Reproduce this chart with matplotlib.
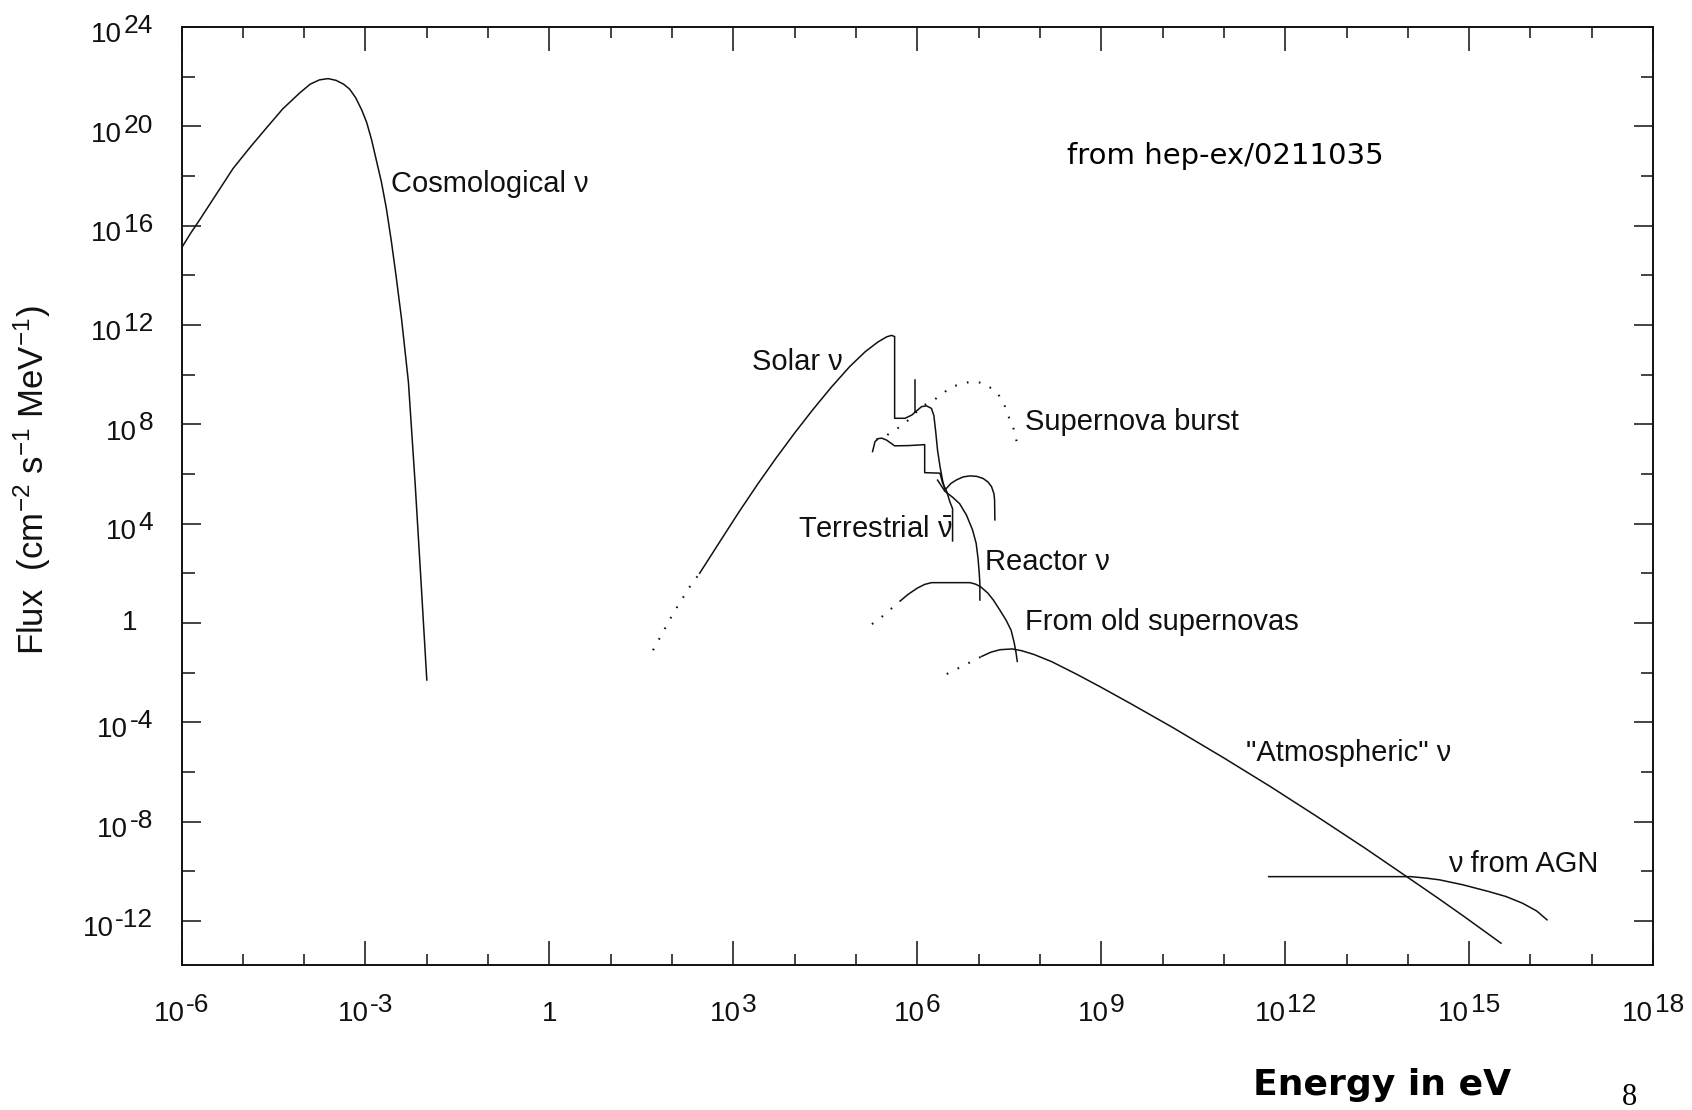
import numpy as np
import matplotlib
matplotlib.use("Agg")
import matplotlib.pyplot as plt
from matplotlib.ticker import FixedLocator, NullFormatter

plt.rcParams['font.family'] = ['Liberation Sans', 'DejaVu Sans']
plt.rcParams['mathtext.fontset'] = 'custom'
plt.rcParams['mathtext.rm'] = 'Liberation Sans'
plt.rcParams['mathtext.it'] = 'Liberation Sans:italic'
plt.rcParams['mathtext.bf'] = 'Liberation Sans:bold'
plt.rcParams['mathtext.default'] = 'regular'

# all values are log10(E / eV) and log10(flux)
cosmo_logE = [-6.0, -5.85, -5.7, -5.45, -5.16, -4.9, -4.61, -4.35, -4.07, -3.9, -3.75, -3.61,
              -3.48, -3.36, -3.26, -3.16, -3.06, -2.98, -2.9, -2.82, -2.74, -2.66, -2.58,
              -2.5, -2.41, -2.3, -2.19, -2.1, -2.0]
cosmo_logF = [15.1, 15.7, 16.25, 17.2, 18.3, 19.1, 19.95, 20.7, 21.35, 21.7, 21.87, 21.92,
              21.85, 21.7, 21.5, 21.15, 20.65, 20.15, 19.45, 18.6, 17.75, 16.7, 15.4,
              13.95, 12.2, 9.7, 5.6, 1.9, -2.3]

solar_dot_logE = [1.69, 2.02, 2.29, 2.45]
solar_dot_logF = [-1.1, 0.39, 1.46, 2.0]
solar_logE = [2.45, 2.8, 3.1, 3.4, 3.7, 4.0, 4.3, 4.6, 4.9, 5.15, 5.35, 5.5, 5.58, 5.63,
              5.63, 5.80, 5.91, 5.97, 6.07, 6.15, 6.23, 6.27, 6.30, 6.33, 6.37, 6.41, 6.45,
              6.55, 6.64, 6.75, 6.86, 6.97, 7.07, 7.15, 7.21, 7.25, 7.26, 7.265]
solar_logF = [2.0, 3.35, 4.5, 5.6, 6.65, 7.65, 8.6, 9.5, 10.33, 10.92, 11.3, 11.52, 11.58,
              11.53, 8.24, 8.24, 8.37, 8.5, 8.71, 8.74, 8.64, 8.35, 7.7, 6.95, 6.3, 5.76,
              5.35, 5.62, 5.76, 5.88, 5.92, 5.9, 5.82, 5.68, 5.49, 5.2, 4.95, 4.15]
be7_logE = [5.97, 5.97]
be7_logF = [9.78, 8.5]

sn_logE = [5.33, 5.47, 5.63, 5.77, 5.91, 6.07, 6.29, 6.56, 6.86, 7.07, 7.29, 7.40, 7.51,
           7.59, 7.64]
sn_logF = [7.38, 7.50, 7.77, 7.97, 8.31, 8.71, 9.01, 9.51, 9.71, 9.67, 9.31, 8.91, 8.17,
           7.70, 7.03]

terr_logE = [5.27, 5.31, 5.36, 5.42, 5.50, 5.63, 5.85, 6.00, 6.12, 6.12, 6.37, 6.41, 6.48,
             6.53, 6.575, 6.575]
terr_logF = [6.90, 7.30, 7.42, 7.44, 7.36, 7.13, 7.14, 7.16, 7.18, 6.05, 6.03, 5.65, 5.29,
             4.88, 4.6, 3.3]

reactor_logE = [6.33, 6.45, 6.58, 6.69, 6.80, 6.90, 6.96, 6.99, 7.01, 7.02, 7.02]
reactor_logF = [5.75, 5.30, 5.05, 4.80, 4.35, 3.75, 3.2, 2.6, 2.0, 1.6, 0.92]

oldsn_dot_logE = [5.26, 5.45, 5.61, 5.72]
oldsn_dot_logF = [-0.05, 0.3, 0.65, 0.88]
oldsn_logE = [5.72, 5.85, 6.0, 6.12, 6.23, 6.86, 6.95, 7.03, 7.15, 7.24, 7.35, 7.45, 7.53,
              7.58, 7.61, 7.63]
oldsn_logF = [0.88, 1.15, 1.4, 1.55, 1.62, 1.62, 1.56, 1.46, 1.2, 0.92, 0.5, 0.1, -0.3,
              -0.8, -1.2, -1.55]

atm_dot_logE = [6.48, 6.65, 6.85, 7.05]
atm_dot_logF = [-2.06, -1.85, -1.6, -1.35]
atm_logE = [7.05, 7.2, 7.35, 7.55, 7.7, 7.9, 8.19, 8.6, 8.98, 9.5, 10.17, 11.0, 11.75, 12.5,
            13.3, 13.97, 14.5, 14.92, 15.52]
atm_logF = [-1.35, -1.18, -1.08, -1.05, -1.12, -1.27, -1.56, -2.07, -2.57, -3.28, -4.22,
            -5.44, -6.58, -7.77, -9.07, -10.2, -11.1, -11.83, -12.9]

agn_logE = [11.73, 14.05, 14.3, 14.52, 14.9, 15.32, 15.6, 15.87, 16.1, 16.27]
agn_logF = [-10.22, -10.22, -10.28, -10.35, -10.55, -10.82, -11.02, -11.29, -11.6, -11.96]

labels = ["Cosmological \u03bd", "Solar \u03bd", "Supernova burst",
          r"Terrestrial $\bar{\mathrm{\nu}}$", "Reactor \u03bd", "From old supernovas",
          "\"Atmospheric\" \u03bd", "\u03bd from AGN"]
label_logE = [-2.59, 3.30, 7.75, 4.05, 7.10, 7.75, 11.36, 14.65]
label_logF = [17.66, 10.51, 8.09, 3.78, 2.45, 0.04, -5.24, -9.71]

x_major = [-6, -3, 0, 3, 6, 9, 12, 15, 18]
y_major = [-12, -8, -4, 0, 4, 8, 12, 16, 20, 24]


def p(v):
    return 10.0 ** np.asarray(v, dtype=float)


fig = plt.figure(figsize=(16.92, 11.10), dpi=100)
ax = fig.add_axes([0.1073, 0.1306, 0.8697, 0.8451])

ink = '#111111'
solid = dict(color=ink, lw=1.1)
dotted = dict(color=ink, lw=1.5, linestyle=(0, (0.8, 5.0)))

ax.plot(p(cosmo_logE), p(cosmo_logF), **solid)
ax.plot(p(solar_dot_logE), p(solar_dot_logF), **dotted)
ax.plot(p(solar_logE), p(solar_logF), **solid)
ax.plot(p(be7_logE), p(be7_logF), **solid)
ax.plot(p(sn_logE), p(sn_logF), **dotted)
ax.plot(p(terr_logE), p(terr_logF), **solid)
ax.plot(p(reactor_logE), p(reactor_logF), **solid)
ax.plot(p(oldsn_dot_logE), p(oldsn_dot_logF), **dotted)
ax.plot(p(oldsn_logE), p(oldsn_logF), **solid)
ax.plot(p(atm_dot_logE), p(atm_dot_logF), **dotted)
ax.plot(p(atm_logE), p(atm_logF), **solid)
ax.plot(p(agn_logE), p(agn_logF), **solid)

for txt, lx, ly in zip(labels, label_logE, label_logF):
    ax.text(10.0 ** lx, 10.0 ** ly, txt, fontsize=21, ha='left', va='center', color=ink)

ax.set_xscale('log')
ax.set_yscale('log')
ax.set_xlim(1e-6, 1e18)
ax.set_ylim(10 ** -13.78, 1e24)

ax.xaxis.set_major_locator(FixedLocator(p(x_major)))
ax.xaxis.set_minor_locator(FixedLocator(p([e for e in range(-6, 19) if e % 3 != 0])))
ax.yaxis.set_major_locator(FixedLocator(p(y_major)))
ax.yaxis.set_minor_locator(FixedLocator(p([e for e in range(-14, 25, 2) if e % 4 != 0])))
for a in (ax.xaxis, ax.yaxis):
    a.set_major_formatter(NullFormatter())
    a.set_minor_formatter(NullFormatter())

ax.tick_params(which='both', direction='in', top=True, right=True, colors=ink, width=1.1)
ax.tick_params(axis='x', which='major', length=17)
ax.tick_params(axis='x', which='minor', length=8)
ax.tick_params(axis='y', which='major', length=14)
ax.tick_params(axis='y', which='minor', length=9)
for s in ax.spines.values():
    s.set_linewidth(1.4)
    s.set_color(ink)

# tick labels "10" + raised exponent of nearly the same size, as in the original
base_size = 20
exp_size = 19
gap = 1.0
raise_pt = 6.5
base_w = 2 * 0.556 * base_size


def exp_width(s):
    return sum(0.333 if c == '-' else 0.556 for c in s) * exp_size


xtr = ax.get_xaxis_transform()
for e in x_major:
    xv = 10.0 ** e
    if e == 0:
        ax.annotate('1', xy=(xv, 0), xycoords=xtr, xytext=(0, -40.3),
                    textcoords='offset points', ha='center', va='baseline',
                    fontsize=base_size, color=ink)
        continue
    s = str(e)
    left = -(base_w + gap + exp_width(s)) / 2
    ax.annotate('10', xy=(xv, 0), xycoords=xtr, xytext=(left, -40.3),
                textcoords='offset points', ha='left', va='baseline',
                fontsize=base_size, color=ink)
    ax.annotate(s, xy=(xv, 0), xycoords=xtr, xytext=(left + base_w + gap, -40.3 + raise_pt),
                textcoords='offset points', ha='left', va='baseline',
                fontsize=exp_size, color=ink)

ytr = ax.get_yaxis_transform()
for e in y_major:
    yv = 10.0 ** e
    if e == 0:
        ax.annotate('1', xy=(0, yv), xycoords=ytr, xytext=(-32, 0),
                    textcoords='offset points', ha='right', va='center',
                    fontsize=base_size, color=ink)
        continue
    s = str(e)
    right = -20.5
    ax.annotate(s, xy=(0, yv), xycoords=ytr, xytext=(right, -11.0 + raise_pt),
                textcoords='offset points', ha='right', va='baseline',
                fontsize=exp_size, color=ink)
    ax.annotate('10', xy=(0, yv), xycoords=ytr, xytext=(right - exp_width(s) - gap, -11.0),
                textcoords='offset points', ha='right', va='baseline',
                fontsize=base_size, color=ink)

fig.text(0.019, 0.5676, r"Flux  (cm$^{-2}$ s$^{-1}$ MeV$^{-1}$)", rotation=90,
         ha='center', va='center', fontsize=25, color=ink)
fig.text(0.724, 0.8595, "from hep-ex/0211035", ha='center', va='center',
         fontsize=21, family='DejaVu Sans', color='black')
fig.text(0.817, 0.0225, "Energy in eV", ha='center', va='center', fontsize=26,
         family='DejaVu Sans', weight='bold', color='black')
fig.text(0.963, 0.011, "8", ha='center', va='center', fontsize=22,
         family='Liberation Serif', color='black')

fig.savefig('out.png', dpi=100)
